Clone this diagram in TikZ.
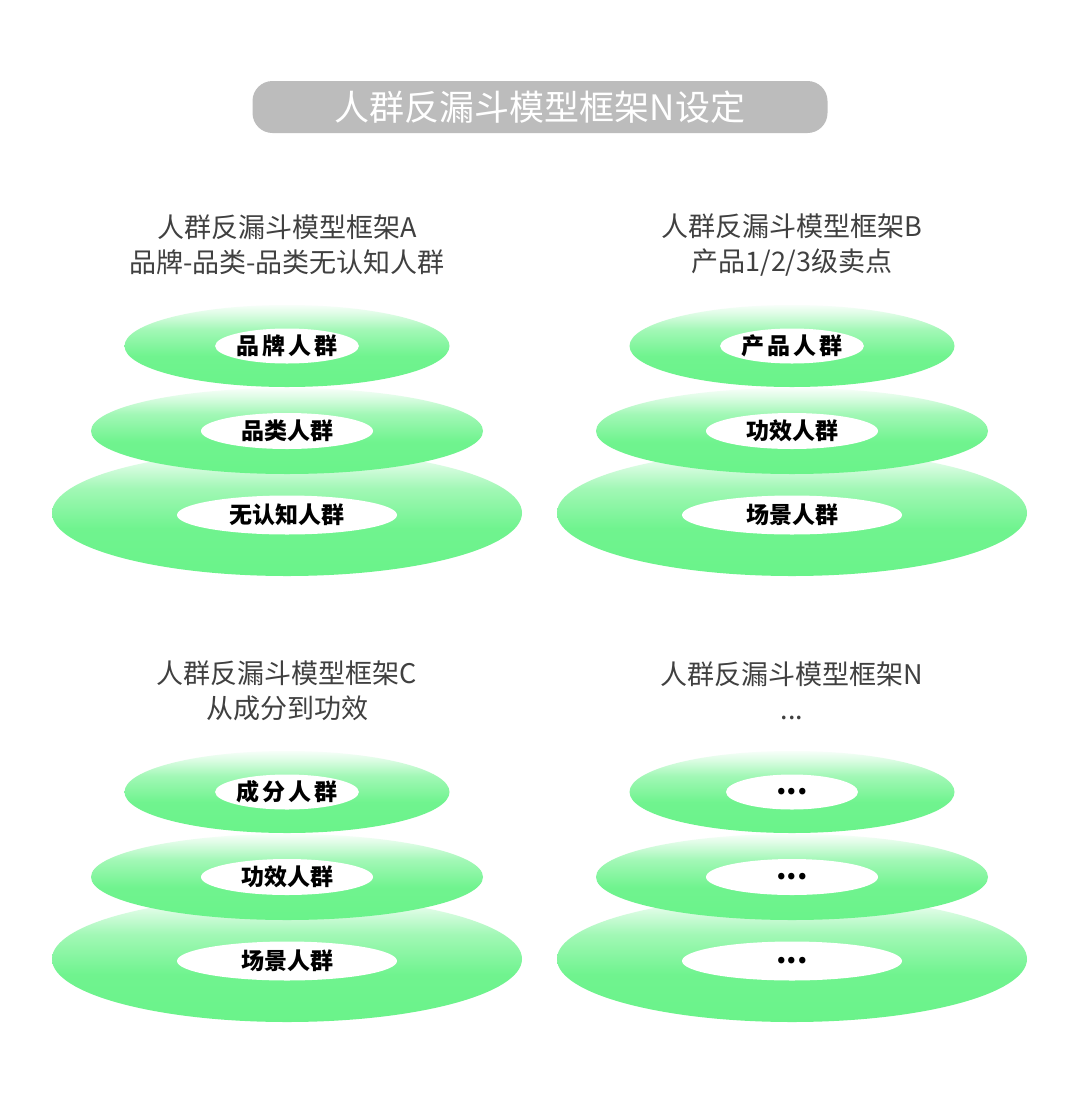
\documentclass[tikz,border=0pt]{standalone}
\usepackage{fontspec}
\usetikzlibrary{shapes.geometric, positioning}
\newfontfamily\cjk{Noto Sans CJK SC}
\definecolor{color1}{RGB}{188,188,188}
\definecolor{color2}{RGB}{106,243,138}
\definecolor{color3}{RGB}{64,64,64}
\pgfdeclareverticalshading{ringfade}{100bp}{color(0bp)=(color2); color(25bp)=(color2); color(44bp)=(color2!96!white); color(60bp)=(color2!62!white); color(70bp)=(color2!22!white); color(75bp)=(color2!5!white); color(100bp)=(color2!5!white)}

\begin{document}
\begin{tikzpicture}[x=1pt,y=-1pt,
		ring/.style={ellipse, inner sep=0pt, shading=ringfade},
		hole/.style={ellipse, inner sep=0pt, fill=white, text=black, font=\cjk\bfseries\fontsize{23}{26}\selectfont},
		wide/.style={font=\cjk\bfseries\addfontfeature{LetterSpace=14}\fontsize{23}{26}\selectfont},
		dots/.style={font=\cjk\bfseries\fontsize{30}{30}\selectfont},
		caption/.style={text=color3, align=center, font=\cjk\fontsize{27}{35}\selectfont}]
		\useasboundingbox[fill=white] (0,0) rectangle (1080,1120);
		
		% title
		\node[fill=color1, rounded corners=20pt, minimum width=575pt, minimum height=52pt, text=white, font=\cjk\fontsize{35}{40}\selectfont] (title) at (540,107) {人群反漏斗模型框架N设定};
		
		% frame A
		\node[caption] (capA) at (287,245) {人群反漏斗模型框架A\\品牌-品类-品类无认知人群};
		\node[ring, minimum width=470pt, minimum height=126pt] (ringA3) at (287,513) {};
		\node[ring, minimum width=392pt, minimum height=86pt] (ringA2) at (287,431) {};
		\node[ring, minimum width=325pt, minimum height=82pt] (ringA1) at (287,346) {};
		\node[hole, wide, minimum width=132pt, minimum height=35pt] (holeA1) at (ringA1) {品牌人群};
		\node[hole, minimum width=172pt, minimum height=36pt] (holeA2) at (ringA2) {品类人群};
		\node[hole, minimum width=220pt, minimum height=39pt] (holeA3) at ([yshift=-2pt]ringA3) {无认知人群};
		
		% frame B
		\node[caption] (capB) at (792,245) {人群反漏斗模型框架B\\产品1/2/3级卖点};
		\node[ring, minimum width=470pt, minimum height=126pt] (ringB3) at (792,513) {};
		\node[ring, minimum width=392pt, minimum height=86pt] (ringB2) at (792,431) {};
		\node[ring, minimum width=325pt, minimum height=82pt] (ringB1) at (792,346) {};
		\node[hole, wide, minimum width=132pt, minimum height=35pt] (holeB1) at (ringB1) {产品人群};
		\node[hole, minimum width=172pt, minimum height=36pt] (holeB2) at (ringB2) {功效人群};
		\node[hole, minimum width=220pt, minimum height=39pt] (holeB3) at ([yshift=-2pt]ringB3) {场景人群};
		
		% frame C
		\node[caption] (capC) at (287,691) {人群反漏斗模型框架C\\从成分到功效};
		\node[ring, minimum width=470pt, minimum height=126pt] (ringC3) at (287,959) {};
		\node[ring, minimum width=392pt, minimum height=86pt] (ringC2) at (287,877) {};
		\node[ring, minimum width=325pt, minimum height=82pt] (ringC1) at (287,792) {};
		\node[hole, wide, minimum width=132pt, minimum height=35pt] (holeC1) at (ringC1) {成分人群};
		\node[hole, minimum width=172pt, minimum height=36pt] (holeC2) at (ringC2) {功效人群};
		\node[hole, minimum width=220pt, minimum height=39pt] (holeC3) at ([yshift=-2pt]ringC3) {场景人群};
		
		% frame N
		\node[caption] (capN) at (792,691) {人群反漏斗模型框架N\\...};
		\node[ring, minimum width=470pt, minimum height=126pt] (ringN3) at (792,959) {};
		\node[ring, minimum width=392pt, minimum height=86pt] (ringN2) at (792,877) {};
		\node[ring, minimum width=325pt, minimum height=82pt] (ringN1) at (792,792) {};
		\node[hole, dots, minimum width=132pt, minimum height=35pt] (holeN1) at (ringN1) {...};
		\node[hole, dots, minimum width=172pt, minimum height=36pt] (holeN2) at (ringN2) {...};
		\node[hole, dots, minimum width=220pt, minimum height=39pt] (holeN3) at ([yshift=-2pt]ringN3) {...};
		
\end{tikzpicture}
\end{document}
